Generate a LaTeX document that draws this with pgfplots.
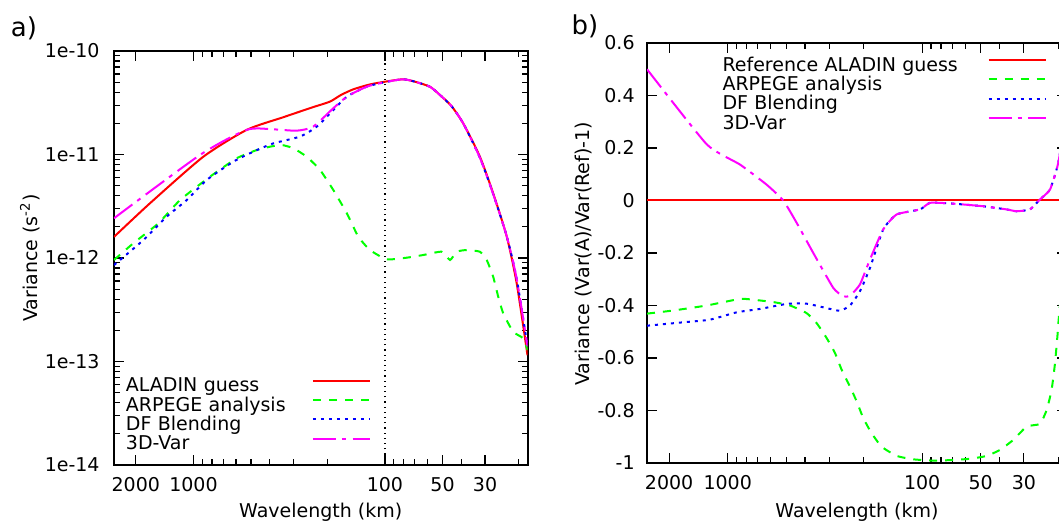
\documentclass[border=0pt]{standalone}
\usepackage{fontspec}
\setmainfont{DejaVu Sans}
\usepackage{pgfplots}
\pgfplotsset{compat=1.18}
\definecolor{gred}{RGB}{255,0,0}
\definecolor{ggreen}{RGB}{0,255,0}
\definecolor{gblue}{RGB}{0,0,255}
\definecolor{gmag}{RGB}{255,0,255}
\newcommand{\fs}{\fontsize{9.5}{11.4}\selectfont}
\tikzset{
  sred/.style={color=gred, line width=1pt},
  sgreen/.style={color=ggreen, line width=1pt, dash pattern=on 4pt off 4pt},
  sblue/.style={color=gblue, line width=1pt, dash pattern=on 1.5pt off 2.5pt},
  smag/.style={color=gmag, line width=1pt, dash pattern=on 11.5pt off 3pt on 2pt off 3.3pt},
}
\pgfplotsset{
  legend image code/.code={\draw[#1] (0pt,3.45pt) -- (28.5pt,3.45pt);},
}
\begin{document}
\begin{tikzpicture}
\useasboundingbox (0,0) rectangle (529.5pt,262pt);
\node[font=\fontsize{13}{15}\selectfont] at (12pt,248pt) {a)};
\node[font=\fontsize{13}{15}\selectfont] at (292.5pt,249pt) {b)};
% ---------------- panel a
\begin{axis}[
  scale only axis, xmode=log, x dir=reverse, xmin=18, xmax=2600,
  xtick={2000,1000,100,50,30}, xticklabels={2000,1000,100,50,30},
  minor xtick={20,40,60,70,80,90,200,300,400,500,600,700,800,900},
  tick align=inside, major tick length=5pt, minor tick length=3pt,
  every tick/.style={black, line width=0.6pt},
  axis line style={line width=1pt},
  tick label style={font=\fs},
  label style={font=\fs},
  xticklabel style={anchor=base, yshift=-13pt, inner sep=0pt},
  yticklabel style={anchor=east, xshift=-7pt, inner sep=0pt},
  xlabel={Wavelength (km)},
  legend plot pos=right,
  legend cell align=left,
  at={(57pt,29.5pt)}, anchor=south west,
  width=206.75pt, height=207pt,
  ymode=log, ymin=1e-14, ymax=1e-10,
  ytick={1e-14,1e-13,1e-12,1e-11,1e-10},
  yticklabels={1e-14,1e-13,1e-12,1e-11,1e-10},
  minor ytick={2e-14,3e-14,4e-14,5e-14,6e-14,7e-14,8e-14,9e-14,
               2e-13,3e-13,4e-13,5e-13,6e-13,7e-13,8e-13,9e-13,
               2e-12,3e-12,4e-12,5e-12,6e-12,7e-12,8e-12,9e-12,
               2e-11,3e-11,4e-11,5e-11,6e-11,7e-11,8e-11,9e-11},
  ylabel={Variance (s\textsuperscript{-2})},
  xlabel style={at={(axis description cs:0.5,-0.1256)}, anchor=base},
  ylabel style={at={(axis description cs:-0.203,0.5)}, anchor=center},
  legend style={at={(0.029,0.2104)}, anchor=north west, draw=none, fill=none,
    inner sep=0pt, outer sep=0pt, row sep=0pt, column sep=0pt, font=\fs,
    nodes={inner sep=0pt, text height=7pt, text depth=2.65pt, text width=93pt, align=left}},
]
\addplot[black, dotted, line width=0.6pt, forget plot] coordinates {(100,1e-14) (100,1e-10)};
\addplot[sred, smooth, tension=0.4] coordinates {
(2600,1.6e-12) (1687,3.38e-12) (888,9.52e-12) (527,1.73e-11) (340,2.29e-11)
(240,2.85e-11) (194,3.24e-11) (169.7,3.76e-11) (146,4.27e-11) (120,4.75e-11) (100,5.05e-11)
(80.2,5.33e-11) (68.3,5.0e-11) (58,4.5e-11)
(51.6,3.76e-11) (45,2.95e-11) (39.0,2.0e-11) (31.9,9.52e-12) (27.2,4.22e-12) (23.1,1.61e-12)
(20.5,5.7e-13) (18,1.15e-13)};
\addlegendentry{ALADIN guess}
\addplot[sgreen, smooth, tension=0.3] coordinates {
(2600,9.57e-13) (2062,1.387e-12) (1526,2.16e-12) (1175,3.63e-12) (820,6.1e-12)
(595,9.19e-12) (467,1.105e-11) (398,1.19e-11) (346,1.236e-11) (301,1.15e-11)
(256,9.52e-12) (218,7.08e-12) (186,4.54e-12) (158,2.70e-12) (137.8,1.61e-12)
(119.7,1.195e-12) (97.9,9.71e-13) (77,1.007e-12) (63.1,1.069e-12) (50.6,1.15e-12)
(45.7,9.57e-13) (42.2,1.15e-12) (37.4,1.195e-12) (31.9,1.15e-12) (29.4,9.57e-13)
(27.2,6.6e-13) (25.6,4.23e-13) (24.1,2.92e-13) (21.4,1.94e-13) (18.95,1.675e-13)
(18,1.29e-13)};
\addlegendentry{ARPEGE analysis}
\addplot[sblue, smooth, tension=0.4] coordinates {
(2600,8.55e-13) (1828,1.49e-12) (1380,2.51e-12) (1085,3.63e-12) (853,5.67e-12)
(619,8.52e-12) (487,1.064e-11) (383,1.28e-11) (278,1.49e-11) (227,1.86e-11)
(186,2.69e-11) (158,3.62e-11) (124.5,4.52e-11) (100,5.0e-11) (80.2,5.33e-11)
(68.3,5.0e-11) (58,4.5e-11) (51.6,3.76e-11) (45,2.95e-11) (39,2.0e-11) (31.9,9.3e-12) (27.2,4.15e-12)
(23.1,1.62e-12) (20.5,6.3e-13) (18,1.4e-13)};
\addlegendentry{DF Blending}
\addplot[smag, smooth, tension=0.4] coordinates {
(2600,2.42e-12) (925,9.89e-12) (527,1.73e-11) (383,1.75e-11) (289,1.70e-11)
(237,1.86e-11) (186,2.8e-11) (158,3.62e-11) (124.5,4.52e-11) (100,5.0e-11)
(80.2,5.33e-11) (68.3,5.0e-11) (58,4.5e-11) (51.6,3.76e-11) (45,2.95e-11) (39,2.0e-11) (31.9,9.3e-12)
(27.2,4.15e-12) (23.1,1.62e-12) (20.5,6.3e-13) (18,1.4e-13)};
\addlegendentry{3D-Var}
\end{axis}
% ---------------- panel b
\begin{axis}[
  scale only axis, xmode=log, x dir=reverse, xmin=18, xmax=2600,
  xtick={2000,1000,100,50,30}, xticklabels={2000,1000,100,50,30},
  minor xtick={20,40,60,70,80,90,200,300,400,500,600,700,800,900},
  tick align=inside, major tick length=5pt, minor tick length=3pt,
  every tick/.style={black, line width=0.6pt},
  axis line style={line width=1pt},
  tick label style={font=\fs},
  label style={font=\fs},
  xticklabel style={anchor=base, yshift=-13pt, inner sep=0pt},
  yticklabel style={anchor=east, xshift=-6pt, inner sep=0pt},
  xlabel={Wavelength (km)},
  legend plot pos=right,
  legend cell align=left,
  at={(323.5pt,30.5pt)}, anchor=south west,
  width=210pt, height=210pt,
  ymin=-1, ymax=0.6,
  ytick={-1,-0.8,-0.6,-0.4,-0.2,0,0.2,0.4,0.6},
  yticklabels={-1,-0.8,-0.6,-0.4,-0.2,0,0.2,0.4,0.6},
  ylabel={Variance (Var(A)/Var(Ref)-1)},
  xlabel style={at={(axis description cs:0.5,-0.1286)}, anchor=base},
  ylabel style={at={(axis description cs:-0.152,0.498)}, anchor=center},
  legend style={at={(0.1798,0.966)}, anchor=north west, draw=none, fill=none,
    inner sep=0pt, outer sep=0pt, row sep=0pt, column sep=0pt, font=\fs,
    nodes={inner sep=0pt, text height=7pt, text depth=2.65pt, text width=132.5pt, align=left}},
]
\addplot[sred] coordinates {(2600,0) (18,0)};
\addlegendentry{Reference ALADIN guess}
\addplot[sgreen, smooth, tension=0.3] coordinates {
(2600,-0.431) (1905,-0.419) (1282,-0.40) (865,-0.375) (739,-0.378) (583,-0.387)
(478,-0.40) (393,-0.429) (349,-0.467) (310,-0.524) (280.8,-0.581) (259.4,-0.645)
(235,-0.709) (217,-0.766) (200.8,-0.829) (181.8,-0.887) (161.5,-0.938) (135.2,-0.973)
(111,-0.986) (87.7,-0.991) (72,-0.989) (56.8,-0.984) (46.6,-0.973) (39.8,-0.950)
(34.0,-0.912) (29.0,-0.861) (24.8,-0.851) (22.9,-0.798) (21.6,-0.721) (20.75,-0.62)
(20.1,-0.505) (19.8,-0.44) (18,-0.1)};
\addlegendentry{ARPEGE analysis}
\addplot[sblue, smooth, tension=0.3] coordinates {
(2600,-0.477) (1692,-0.464) (1233,-0.454) (899,-0.426) (682,-0.413) (497,-0.394)
(393,-0.393) (310,-0.41) (264.7,-0.42) (235,-0.40) (209,-0.346) (185.6,-0.257)
(158.6,-0.11) (135.2,-0.053) (102.6,-0.034) (91.2,-0.009) (72,-0.011) (48.5,-0.022)
(36.8,-0.034) (32.7,-0.041) (27.9,-0.034) (24.8,0.004) (22.0,0.042) (19.96,0.144)
(18,0.35)};
\addlegendentry{DF Blending}
\addplot[smag, smooth, tension=0.3] coordinates {
(2600,0.50) (1282,0.214) (865,0.137) (630,0.06) (518,0.0) (442,-0.085) (363,-0.20)
(286.5,-0.333) (254.5,-0.365) (235,-0.363) (209,-0.32) (185.6,-0.225) (158.6,-0.11)
(135.2,-0.053) (102.6,-0.034) (91.2,-0.009) (72,-0.011) (48.5,-0.022) (36.8,-0.034)
(32.7,-0.041) (27.9,-0.034) (24.8,0.004) (22.0,0.042) (19.96,0.144) (18,0.35)};
\addlegendentry{3D-Var}
\end{axis}
\end{tikzpicture}
\end{document}
